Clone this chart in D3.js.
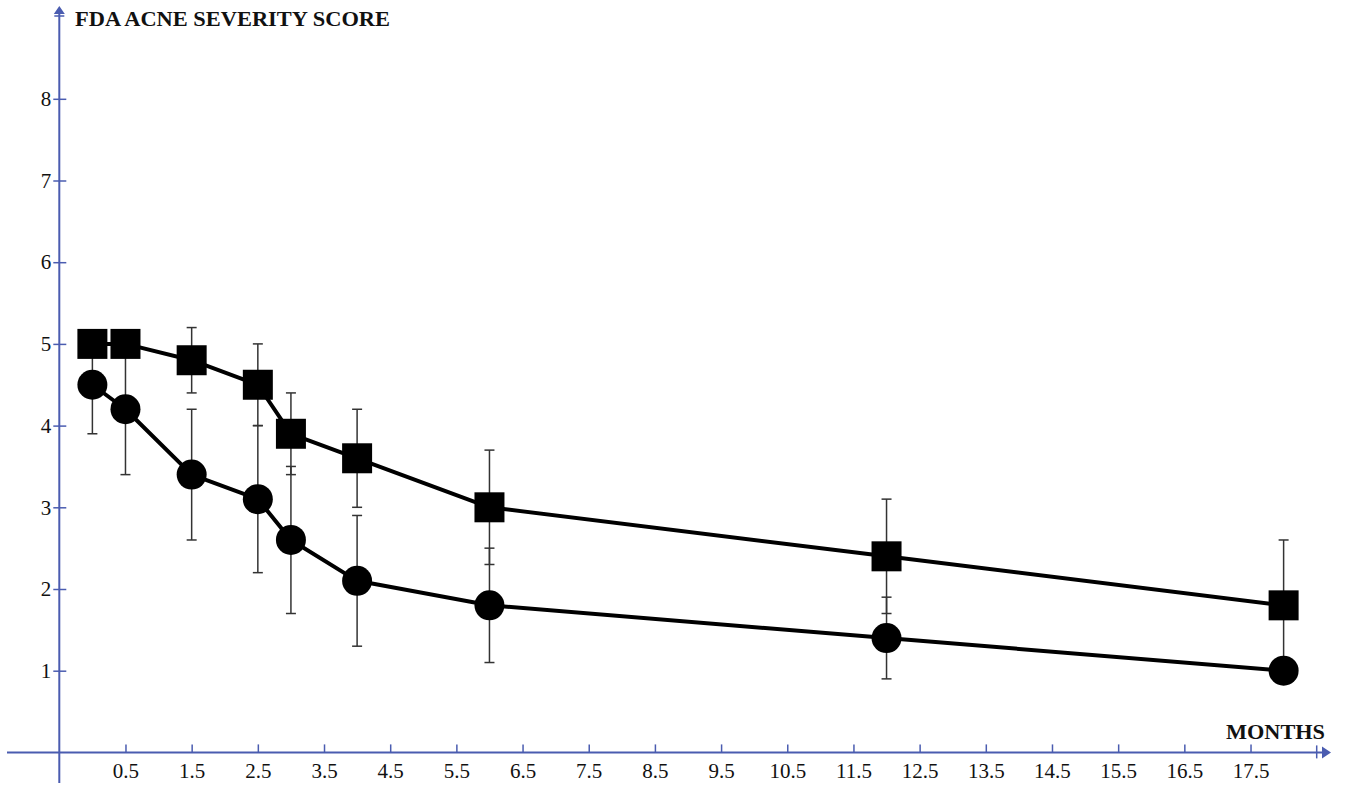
<!DOCTYPE html>
<html>
<head>
<meta charset="utf-8">
<script src="https://cdn.jsdelivr.net/npm/d3@7"></script>
<style>
  body { margin: 0; background: #fff; }
  svg { display: block; }
  .lbl { font-family: "Liberation Serif", "Times New Roman", serif; font-size: 21px; fill: #111; }
  .ttl { font-family: "Liberation Serif", "Times New Roman", serif; font-size: 21px; font-weight: bold; fill: #111; }
</style>
</head>
<body>
<div id="chart"></div>
<script>
// months of follow-up
var months = [0, 0.5, 1.5, 2.5, 3, 4, 6, 12, 18];
// square series: mean score and error
var squareMean = [5.0, 5.0, 4.8, 4.5, 3.9, 3.6, 3.0, 2.4, 1.8];
var squareErr = [0.1, 0.1, 0.4, 0.5, 0.5, 0.6, 0.7, 0.7, 0.8];
// circle series: mean score and error
var circleMean = [4.5, 4.2, 3.4, 3.1, 2.6, 2.1, 1.8, 1.4, 1.0];
var circleErr = [0.6, 0.8, 0.8, 0.9, 0.9, 0.8, 0.7, 0.5, 0.0];
// tick labels
var xTicks = [0.5, 1.5, 2.5, 3.5, 4.5, 5.5, 6.5, 7.5, 8.5, 9.5, 10.5, 11.5, 12.5, 13.5, 14.5, 15.5, 16.5, 17.5];
var yTicks = [1, 2, 3, 4, 5, 6, 7, 8];

var width = 1345, height = 785;
var axisColor = '#4a5cb0';

var svg = d3.select('#chart').append('svg')
  .attr('width', width)
  .attr('height', height);

var x = d3.scaleLinear().domain([-0.5, 18.5]).range([59.3, 1316.7]);
var y = d3.scaleLinear().domain([0, 8]).range([752.4, 98.8]);

function series(mean, err) {
  return months.map(function (m, i) {
    return { m: m, v: mean[i], e: err[i] };
  });
}
var squares = series(squareMean, squareErr);
var circles = series(circleMean, circleErr);

// axis lines with arrows
var ax = svg.append('g').attr('class', 'axes');
ax.append('line')
  .attr('x1', 7).attr('x2', 1324)
  .attr('y1', y(0)).attr('y2', y(0))
  .style('stroke', axisColor).style('stroke-width', 2);
ax.append('path')
  .attr('d', 'M1322,' + (y(0) - 6) + 'L1331,' + y(0) + 'L1322,' + (y(0) + 6) + 'Z')
  .style('fill', axisColor);
ax.append('line')
  .attr('x1', x(18.5)).attr('x2', x(18.5))
  .attr('y1', y(0) - 7).attr('y2', y(0) + 6)
  .style('stroke', axisColor).style('stroke-width', 1.5);

ax.append('line')
  .attr('x1', x(-0.5)).attr('x2', x(-0.5))
  .attr('y1', 783).attr('y2', 12)
  .style('stroke', axisColor).style('stroke-width', 2);
ax.append('path')
  .attr('d', 'M' + (x(-0.5) - 5.5) + ',14L' + x(-0.5) + ',6L' + (x(-0.5) + 5.5) + ',14Z')
  .style('fill', axisColor);
ax.append('line')
  .attr('x1', x(-0.5) - 5).attr('x2', x(-0.5) + 5)
  .attr('y1', 16).attr('y2', 16)
  .style('stroke', axisColor).style('stroke-width', 1.5);

// x axis ticks
var gx = svg.append('g')
  .attr('transform', 'translate(0,' + y(0) + ')')
  .call(d3.axisBottom(x).tickValues(xTicks).tickSize(-8).tickPadding(11)
    .tickFormat(function (d) { return d3.format('.1f')(d); }));
gx.attr('font-family', null).attr('font-size', null);
gx.select('.domain').remove();
gx.selectAll('.tick line').style('stroke', axisColor).style('stroke-width', 1.5);
gx.selectAll('.tick text').attr('class', 'lbl');

// y axis ticks
var gy = svg.append('g')
  .attr('transform', 'translate(' + x(-0.5) + ',0)')
  .call(d3.axisLeft(y).tickValues(yTicks).tickSize(6).tickPadding(2));
gy.attr('font-family', null).attr('font-size', null);
gy.select('.domain').remove();
gy.selectAll('.tick line').attr('x2', -6).attr('x1', 7)
  .style('stroke', axisColor).style('stroke-width', 1.5);
gy.selectAll('.tick text').attr('class', 'lbl');

// axis titles
svg.append('text').attr('class', 'ttl')
  .attr('x', 75).attr('y', 26)
  .attr('textLength', 315).attr('lengthAdjust', 'spacingAndGlyphs')
  .text('FDA ACNE SEVERITY SCORE');
svg.append('text').attr('class', 'ttl')
  .attr('x', 1226).attr('y', 739)
  .attr('textLength', 99).attr('lengthAdjust', 'spacingAndGlyphs')
  .text('MONTHS');

// error bars
function errorBars(data) {
  var g = svg.append('g').attr('class', 'err');
  var bars = g.selectAll('g').data(data.filter(function (d) { return d.e > 0; }))
    .enter().append('g');
  bars.append('line')
    .attr('x1', function (d) { return x(d.m); })
    .attr('x2', function (d) { return x(d.m); })
    .attr('y1', function (d) { return y(d.v + d.e); })
    .attr('y2', function (d) { return y(d.v - d.e); });
  [1, -1].forEach(function (s) {
    bars.append('line')
      .attr('x1', function (d) { return x(d.m) - 5; })
      .attr('x2', function (d) { return x(d.m) + 5; })
      .attr('y1', function (d) { return y(d.v + s * d.e); })
      .attr('y2', function (d) { return y(d.v + s * d.e); });
  });
  g.selectAll('line').style('stroke', '#333').style('stroke-width', 1.5);
}
errorBars(squares);
errorBars(circles);

// connecting lines
var line = d3.line()
  .x(function (d) { return x(d.m); })
  .y(function (d) { return y(d.v); });
[squares, circles].forEach(function (data) {
  svg.append('path')
    .datum(data)
    .attr('d', line)
    .style('fill', 'none')
    .style('stroke', '#000')
    .style('stroke-width', 4)
    .style('stroke-linejoin', 'round');
});

// markers
svg.append('g').selectAll('path')
  .data(squares)
  .enter().append('path')
  .attr('d', d3.symbol().type(d3.symbolSquare).size(900))
  .attr('transform', function (d) { return 'translate(' + x(d.m) + ',' + y(d.v) + ')'; })
  .style('fill', '#000');
svg.append('g').selectAll('circle')
  .data(circles)
  .enter().append('circle')
  .attr('cx', function (d) { return x(d.m); })
  .attr('cy', function (d) { return y(d.v); })
  .attr('r', 15)
  .style('fill', '#000');
</script>
</body>
</html>
